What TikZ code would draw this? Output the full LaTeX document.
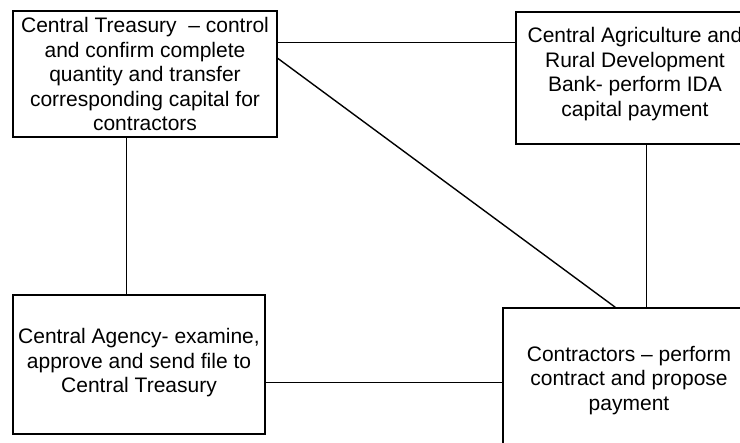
\documentclass[tikz,border=0pt]{standalone}
\usepackage{fontspec}
\setmainfont{Liberation Sans}
\usetikzlibrary{calc}
\usetikzlibrary{positioning}

\begin{document}
\begin{tikzpicture}[-,x=1pt,y=-1pt,line width=1.4pt,auto]
 				 \tikzstyle{box}=[draw, rectangle, inner sep=2pt, align=center, font=\fontsize{21}{24.5}\selectfont]
 				 \useasboundingbox (0,0) rectangle (740,443);
 				 \clip (0,0) rectangle (740,443);
 					 \node[box, minimum width=264pt, minimum height=126pt] (T) at (145,74)
 					 		{Central Treasury \ -- control\\and confirm complete\\quantity and transfer\\corresponding capital for\\contractors};
  					 \node[box, minimum width=238pt, minimum height=132pt] (B) at (635,78)
  					 		{Central Agriculture and\\Rural Development\\Bank- perform IDA\\capital payment\\[-12.5pt]};
  					 \node[box, minimum width=252pt, minimum height=139pt] (A) at (139,364.5)
  					 		{Central Agency- examine,\\approve and send file to\\Central Treasury\\[-16.5pt]};
  					 \node[box, minimum width=252pt, minimum height=150pt] (C) at (629,383)
  					 		{Contractors -- perform\\contract and propose\\payment\\[-14.5pt]};
					\coordinate (t1) at ($(T.north east)+(0,32)$);
					\coordinate (t2) at ($(T.north east)+(0,48)$);
					\coordinate (c1) at ($(C.north west)+(113,0)$);
					\coordinate (t3) at ($(T.south west)+(114,0)$);
					\coordinate (b1) at ($(B.south west)+(131,0)$);
					\coordinate (a1) at ($(A.north east)+(0,88)$);
 					  \path
 					 			(t1) edge (t1 -| B.west)
 					 			(t2) edge (c1)
 					 			(t3) edge (t3 |- A.north)
 					 			(b1) edge (b1 |- C.north)
 					 			(a1) edge (a1 -| C.west);
				\end{tikzpicture}
\end{document}
